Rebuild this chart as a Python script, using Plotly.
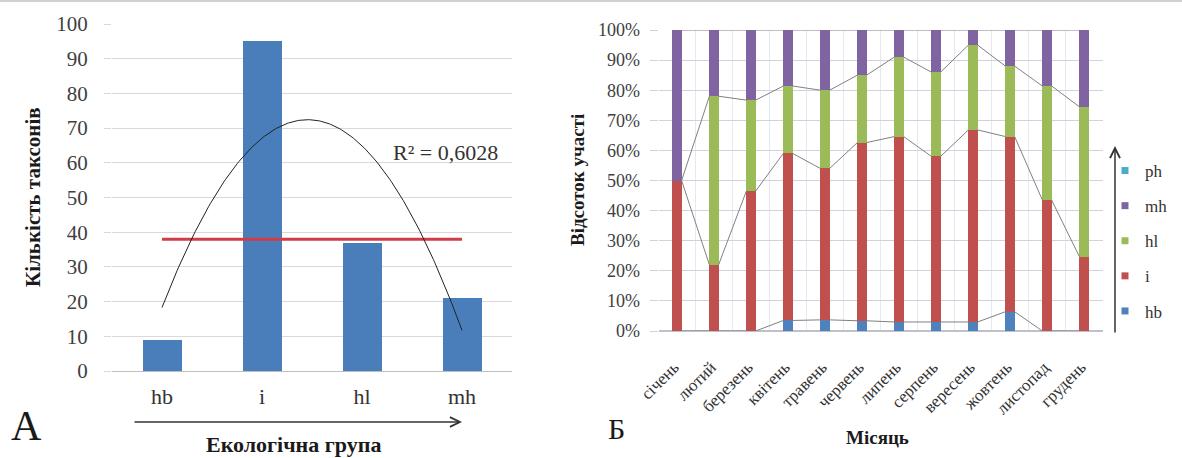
import numpy as np
import plotly.graph_objects as go

# ---------------- data ----------------
groups = ["hb", "i", "hl", "mh"]
taxa_counts = [9, 95, 37, 21]
reference_level = 38
r2_label = "R² = 0,6028"

months = ["січень", "лютий", "березень", "квітень", "травень", "червень",
          "липень", "серпень", "вересень", "жовтень", "листопад", "грудень"]
hb = [0, 0, 0, 3.5, 3.7, 3.4, 3.0, 3.0, 3.0, 6.4, 0, 0]
i_vals = [50, 22, 46.5, 55.5, 50.3, 59.2, 61.6, 55, 63.8, 58.2, 43.5, 24.7]
hl = [0, 56, 30.2, 22.4, 26, 22.4, 26.4, 28, 28.2, 23.4, 37.9, 49.8]
mh = [50, 22, 23.3, 18.6, 20, 15, 9, 14, 5, 12, 18.6, 25.5]
ph = [0] * 12
pct_ticks = list(range(0, 101, 10))
pct_labels = [f"{v}%" for v in pct_ticks]

W, H = 1182, 458
SERIF = "Liberation Serif"


def px(x):
    return x / W


def py(y):
    return 1 - y / H


fig = go.Figure()

# ---------------- panel A ----------------
gx = list(range(len(groups)))
fig.add_trace(go.Bar(x=gx, y=taxa_counts, width=0.39, marker_color="#4a7ebb",
                     marker_line_width=0, xaxis="x", yaxis="y", showlegend=False))
fig.add_trace(go.Scatter(x=[gx[0], gx[-1]], y=[reference_level] * 2, mode="lines",
                         line=dict(color="#d23c46", width=3), xaxis="x", yaxis="y",
                         showlegend=False, hoverinfo="skip"))
xn = np.arange(1, len(taxa_counts) + 1)
coef = np.polyfit(xn, taxa_counts, 2)
xs = np.linspace(1, len(taxa_counts), 200)
fig.add_trace(go.Scatter(x=xs - 1, y=np.polyval(coef, xs), mode="lines",
                         line=dict(color="#222222", width=1), xaxis="x", yaxis="y",
                         showlegend=False, hoverinfo="skip"))

# ---------------- panel Б ----------------
mx = list(range(len(months)))
bw = 0.25
series = [("hb", hb, "#4f81bd"), ("i", i_vals, "#c0504d"), ("hl", hl, "#9bbb59"),
          ("mh", mh, "#8064a2"), ("ph", ph, "#4bacc6")]
for name, vals, col in series:
    fig.add_trace(go.Bar(x=mx, y=vals, width=bw, marker_color=col, marker_line_width=0,
                         name=name, xaxis="x2", yaxis="y2", showlegend=False))

cum = np.zeros(len(months))
for name, vals, col in series[:4]:
    cum = cum + np.array(vals, dtype=float)
    lx, ly = [], []
    for j in range(len(months) - 1):
        lx += [j + bw / 2, j + 1 - bw / 2, None]
        ly += [cum[j], cum[j + 1], None]
    fig.add_trace(go.Scatter(x=lx, y=ly, mode="lines", line=dict(color="#808080", width=1),
                             xaxis="x2", yaxis="y2", showlegend=False, hoverinfo="skip"))

# legend entries (top to bottom: ph, mh, hl, i, hb)
for name, vals, col in reversed(series):
    fig.add_trace(go.Scatter(x=[None], y=[None], mode="markers", name=name,
                             legendgroup=name,
                             marker=dict(symbol="square", size=7, color=col),
                             xaxis="x2", yaxis="y2", showlegend=True))


def note(text, x, y, size, color="#1a1a1a", angle=0):
    return dict(text=text, x=px(x), y=py(y), xref="paper", yref="paper",
                xanchor="center", yanchor="middle", showarrow=False, textangle=angle,
                font=dict(family=SERIF, size=size, color=color))


fig.update_layout(
    width=W, height=H,
    margin=dict(l=0, r=0, t=0, b=0, autoexpand=False),
    paper_bgcolor="white", plot_bgcolor="white",
    barmode="stack",
    showlegend=True,
    legend=dict(x=px(1105), y=py(153), xanchor="left", yanchor="top",
                traceorder="grouped", tracegroupgap=10,
                font=dict(family=SERIF, size=17, color="#333333"),
                bgcolor="rgba(0,0,0,0)"),
    xaxis=dict(domain=[px(112), px(512)], range=[-0.5, 3.5], anchor="y",
               tickmode="array", tickvals=gx, ticktext=groups, automargin=False,
               showgrid=False, zeroline=False, showline=False, ticks="",
               ticklabelstandoff=10,
               tickfont=dict(family=SERIF, size=22, color="#333333")),
    yaxis=dict(domain=[py(371), py(24)], range=[0, 100], anchor="x",
               tickmode="array", tickvals=pct_ticks, automargin=False,
               showgrid=True, gridcolor="#d9d9d9", gridwidth=1,
               zeroline=True, zerolinecolor="#bfbfbf", zerolinewidth=1,
               showline=False, ticks="outside", ticklen=7, tickcolor="#d9d9d9",
               ticklabelstandoff=12,
               tickfont=dict(family=SERIF, size=21, color="#404040")),
    xaxis2=dict(domain=[px(658.5), px(1102.5)], range=[-0.5, 11.5], anchor="y2",
                tickmode="array", tickvals=mx, ticktext=months, tickangle=-45,
                automargin=False,
                showgrid=False, zeroline=False, showline=False, ticks="",
                minor=dict(tickmode="linear", tick0=0.5, dtick=1, showgrid=True,
                           gridcolor="#e6e9f1", gridwidth=1),
                ticklabelstandoff=22, ticklabelshift=-3,
                tickfont=dict(family=SERIF, size=17, color="#333333")),
    yaxis2=dict(domain=[py(331), py(30)], range=[0, 100], anchor="x2",
                tickmode="array", tickvals=pct_ticks, ticktext=pct_labels,
                automargin=False,
                showgrid=True, gridcolor="#d2d2de", gridwidth=1,
                zeroline=True, zerolinecolor="#c0c0cc",
                showline=False, ticks="outside", ticklen=8, tickcolor="#d2d2de",
                ticklabelstandoff=6,
                tickfont=dict(family=SERIF, size=18, color="#404040")),
    annotations=[
        note(r2_label, 445, 152, 22, "#333333"),
        note("<b>Кількість таксонів</b>", 33, 197, 21, angle=-90),
        note("<b>Екологічна група</b>", 293, 444, 22),
        note("А", 26, 426, 42),
        dict(text="", x=px(462), y=py(422), ax=-329, ay=0,
             xref="paper", yref="paper", axref="pixel", ayref="pixel",
             showarrow=True, arrowhead=5, arrowsize=1.3, arrowwidth=1.5,
             arrowcolor="#333333"),
        note("<b>Відсоток участі</b>", 577, 180, 19, angle=-90),
        note("<b>Місяць</b>", 877, 437, 19),
        note("Б", 616, 428, 30),
        dict(text="", x=px(1115), y=py(146), ax=0, ay=188,
             xref="paper", yref="paper", axref="pixel", ayref="pixel",
             showarrow=True, arrowhead=5, arrowsize=1.3, arrowwidth=1.5,
             arrowcolor="#333333"),
    ],
    shapes=[dict(type="line", xref="paper", yref="paper", x0=0, x1=1,
                 y0=py(1), y1=py(1), line=dict(color="#d0d0d0", width=2))],
)

fig.write_html("out.html", config={"displayModeBar": False},
               post_script="document.body.style.margin='0';document.body.style.overflow='hidden';")
